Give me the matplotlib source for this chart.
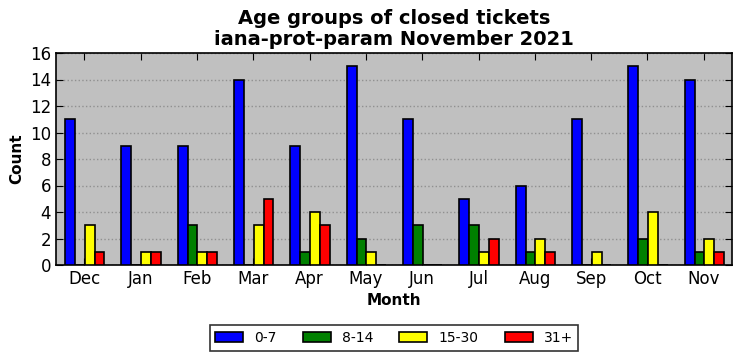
import numpy as np
import matplotlib.pyplot as plt

months = ['Dec', 'Jan', 'Feb', 'Mar', 'Apr', 'May', 'Jun', 'Jul', 'Aug', 'Sep', 'Oct', 'Nov']
age_0_7 = [11, 9, 9, 14, 9, 15, 11, 5, 6, 11, 15, 14]
age_8_14 = [0, 0, 3, 0, 1, 2, 3, 3, 1, 0, 2, 1]
age_15_30 = [3, 1, 1, 3, 4, 1, 0, 1, 2, 1, 4, 2]
age_31 = [1, 1, 1, 5, 3, 0, 0, 2, 1, 0, 0, 1]

series = [('0-7', age_0_7, 'blue'), ('8-14', age_8_14, 'green'),
          ('15-30', age_15_30, 'yellow'), ('31+', age_31, 'red')]

fig = plt.figure(figsize=(7.41, 3.61), dpi=100)
ax = fig.add_axes([56/741, 1 - 265/361, 676/741, 212/361])
ax.set_facecolor('#c0c0c0')

x = np.arange(len(months))
w = 0.175
for i, (name, vals, col) in enumerate(series):
    ax.bar(x - 2*w + i*w + 0.01, vals, w, align='edge', color=col,
           edgecolor='black', linewidth=1.2, label=name, zorder=3)

ax.set_xlim(-0.5, 11.5)
ax.set_ylim(0, 16)
ax.set_yticks(range(0, 17, 2))
ax.set_xticks(x)
ax.set_xticklabels(months)
ax.tick_params(direction='in', top=True, right=True, labelsize=12, length=5)
ax.grid(axis='y', linestyle=':', color='#909090', linewidth=1, zorder=0)
ax.set_axisbelow(True)
for s in ax.spines.values():
    s.set_linewidth(1.2)

ax.set_xlabel('Month', fontsize=11, fontweight='bold')
ax.set_ylabel('Count', fontsize=11, fontweight='bold')
ax.set_title('Age groups of closed tickets\niana-prot-param November 2021',
             fontsize=14, fontweight='bold', linespacing=1.1)

leg = ax.legend(loc='upper center', bbox_to_anchor=(0.5, -0.285), ncol=4,
                fontsize=10, fancybox=False, edgecolor='black',
                handlelength=2.0, handletextpad=0.8, columnspacing=1.9,
                borderaxespad=0, borderpad=0.4)
leg.get_frame().set_linewidth(1.2)

fig.savefig('out.png', dpi=100)
